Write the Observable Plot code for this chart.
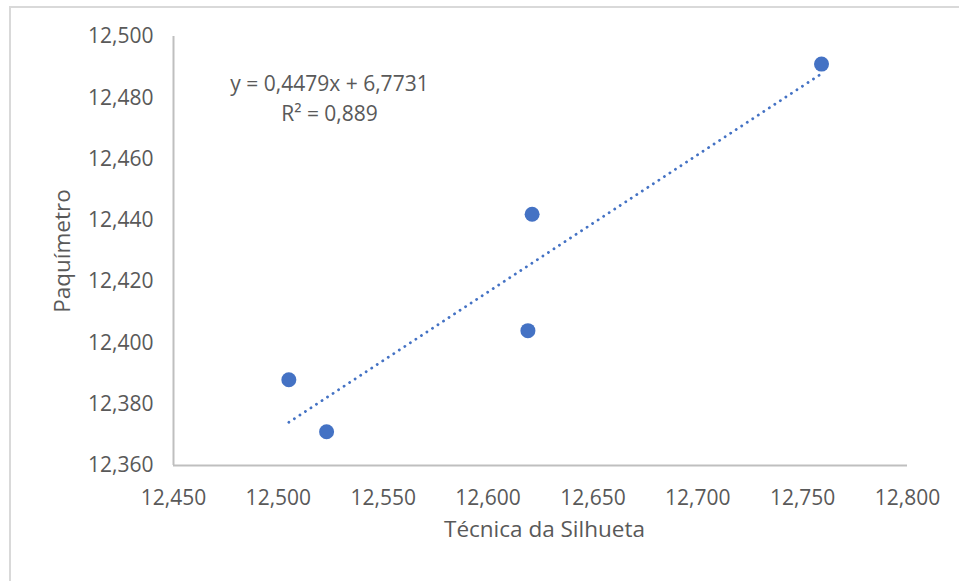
<!DOCTYPE html>
<html>
<head>
<meta charset="utf-8">
<script src="https://cdn.jsdelivr.net/npm/d3@7"></script>
<script src="https://cdn.jsdelivr.net/npm/@observablehq/plot@0.6"></script>
<style>
  html, body { margin: 0; padding: 0; background: #fff; }
  #wrap { position: relative; width: 959px; height: 581px; overflow: hidden; }
  #frame { position: absolute; left: 9px; top: 6px; width: 1000px; height: 700px; border: 2px solid #d9d9d9; box-sizing: border-box; pointer-events: none; }
  #chart { position: absolute; left: 0; top: 0; }
</style>
</head>
<body>
<div id="wrap"><div id="frame"></div><div id="chart"></div></div>
<script>
// Data
const tecnicaSilhueta = [12.505, 12.523, 12.619, 12.621, 12.759];
const paquimetro      = [12.388, 12.371, 12.404, 12.442, 12.491];
const slope = 0.4479;
const intercept = 6.7731;
const equationLabels = ["y = 0,4479x + 6,7731", "R² = 0,889"];
const xTicks = [12.45, 12.5, 12.55, 12.6, 12.65, 12.7, 12.75, 12.8];
const yTicks = [12.36, 12.38, 12.4, 12.42, 12.44, 12.46, 12.48, 12.5];

const points = tecnicaSilhueta.map((x, i) => ({x, y: paquimetro[i]}));
const xMin = d3.min(tecnicaSilhueta), xMax = d3.max(tecnicaSilhueta);
const trend = [xMin, xMax].map(x => ({x, y: slope * x + intercept}));
const fmt = v => d3.format(".3f")(v).replace(".", ",");

const gray = "#595959";
const axisGray = "#bfbfbf";
const blue = "#4472c4";

const chart = Plot.plot({
  width: 959,
  height: 581,
  marginLeft: 173,
  marginRight: 52,
  marginTop: 36,
  marginBottom: 116,
  style: {fontFamily: "'Open Sans', sans-serif", fontSize: "21px", color: gray, background: "transparent"},
  x: {domain: [12.45, 12.8], ticks: xTicks, tickFormat: fmt, tickSize: 0, tickPadding: 24, label: null},
  y: {domain: [12.36, 12.5], ticks: yTicks, tickFormat: fmt, tickSize: 0, tickPadding: 20, label: null},
  marks: [
    Plot.ruleY([12.36], {stroke: axisGray, strokeWidth: 2}),
    Plot.ruleX([12.45], {stroke: axisGray, strokeWidth: 2}),
    Plot.axisX({ticks: xTicks, tickFormat: fmt, tickSize: 0, tickPadding: 25, fill: gray, fontSize: 21, label: null}),
    Plot.axisY({ticks: yTicks, tickFormat: fmt, tickSize: 0, tickPadding: 20, fill: gray, fontSize: 21, label: null}),
    Plot.line(trend, {x: "x", y: "y", stroke: blue, strokeWidth: 2.8, strokeDasharray: "0.1 6.5", strokeLinecap: "round"}),
    Plot.dot(points, {x: "x", y: "y", r: 7.5, fill: blue, stroke: "none"}),
    Plot.text([equationLabels[0]], {frameAnchor: "top-left", dx: 156, dy: 40, text: d => d, fill: gray, fontSize: 21, textAnchor: "middle"}),
    Plot.text([equationLabels[1]], {frameAnchor: "top-left", dx: 156, dy: 70, text: d => d, fill: gray, fontSize: 21, textAnchor: "middle"}),
    Plot.text(["Técnica da Silhueta"], {frameAnchor: "bottom", dx: 4, dy: 71, text: d => d, fill: gray, fontSize: 22.5}),
    Plot.text(["Paquímetro"], {frameAnchor: "left", dx: -111, rotate: -90, textAnchor: "middle", text: d => d, fill: gray, fontSize: 22.5})
  ]
});
document.getElementById("chart").appendChild(chart);
</script>
</body>
</html>
